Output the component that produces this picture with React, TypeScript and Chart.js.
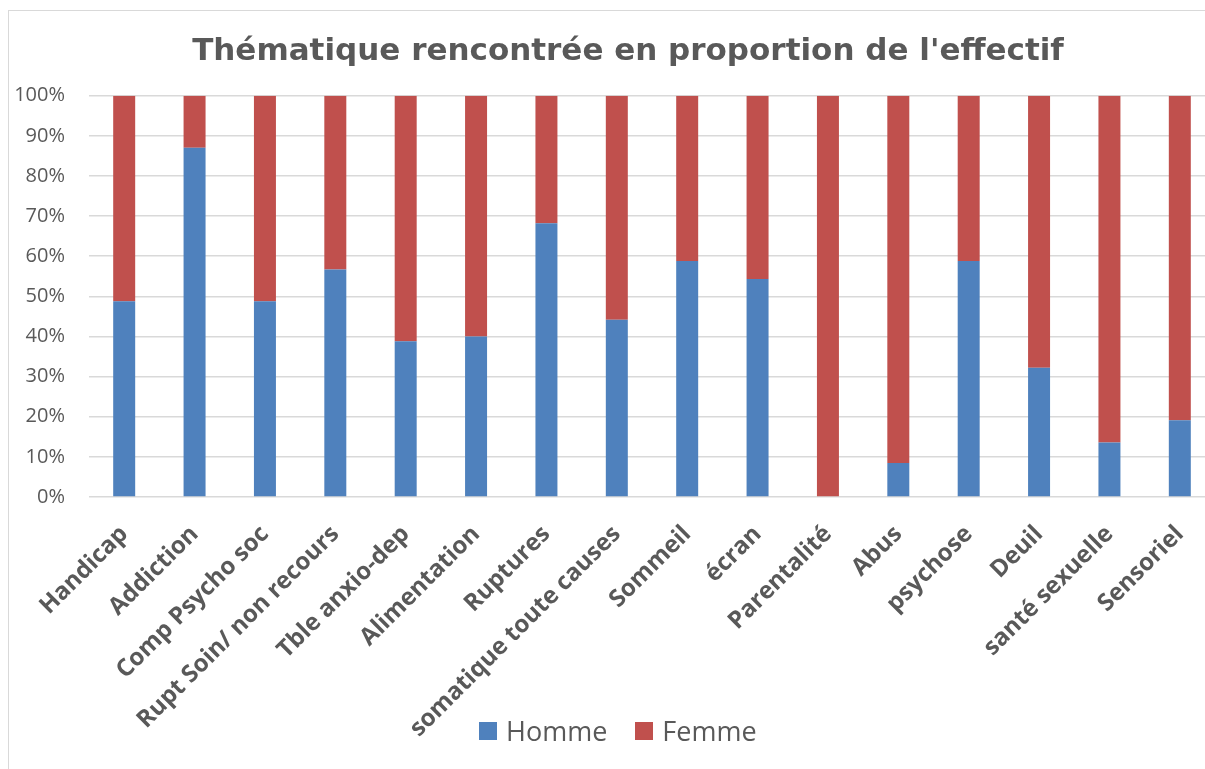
import React, { useEffect, useRef } from 'react';
import { Chart, registerables } from 'chart.js';

Chart.register(...registerables);

const chartTitle = "Thématique rencontrée en proportion de l'effectif";

const categories = [
  'Handicap',
  'Addiction',
  'Comp Psycho soc',
  'Rupt Soin/ non recours',
  'Tble anxio-dep',
  'Alimentation',
  'Ruptures',
  'somatique toute causes',
  'Sommeil',
  'écran',
  'Parentalité',
  'Abus',
  'psychose',
  'Deuil',
  'santé sexuelle',
  'Sensoriel',
];

const seriesNames = ['Homme', 'Femme'];
const seriesColors = ['#4F81BD', '#C0504D'];

const hommeValues = [48.8, 87, 48.8, 56.7, 38.8, 40, 68.2, 44.2, 58.8, 54.3, 0, 8.5, 58.8, 32.2, 13.6, 19.1];
const femmeValues = [51.2, 13, 51.2, 43.3, 61.2, 60, 31.8, 55.8, 41.2, 45.7, 100, 91.5, 41.2, 67.8, 86.4, 80.9];

const yMin = 0;
const yMax = 100;
const yStep = 10;

export default function App() {
  const canvasRef = useRef<HTMLCanvasElement>(null);

  useEffect(() => {
    if (!canvasRef.current) return;
    const chart = new Chart(canvasRef.current, {
      type: 'bar',
      data: {
        labels: categories,
        datasets: [
          {
            label: seriesNames[0],
            data: hommeValues,
            backgroundColor: seriesColors[0],
            borderWidth: 0,
            categoryPercentage: 0.3125,
            barPercentage: 1,
          },
          {
            label: seriesNames[1],
            data: femmeValues,
            backgroundColor: seriesColors[1],
            borderWidth: 0,
            categoryPercentage: 0.3125,
            barPercentage: 1,
          },
        ],
      },
      options: {
        animation: false,
        responsive: false,
        devicePixelRatio: 1,
        layout: { padding: { left: 0, right: 0, top: 0, bottom: 17 } },
        plugins: {
          title: {
            display: true,
            text: chartTitle,
            color: '#595959',
            font: { family: 'DejaVu Sans', size: 31, weight: 'bold', lineHeight: 1.2 },
            padding: { top: 25, bottom: 25.5 },
          },
          legend: { display: false },
          tooltip: { enabled: false },
        },
        scales: {
          x: {
            stacked: true,
            grid: { display: false },
            border: { display: false },
            ticks: {
              autoSkip: false,
              maxRotation: 45,
              minRotation: 45,
              padding: 15,
              color: '#595959',
              font: { family: 'Open Sans', size: 24, weight: 'bold' },
            },
            afterFit: (s: any) => {
              s.height = 255;
            },
          },
          y: {
            stacked: true,
            min: yMin,
            max: yMax,
            ticks: {
              stepSize: yStep,
              callback: (v: any) => v + '%',
              padding: 24,
              color: '#595959',
              font: { family: 'Open Sans', size: 20 },
            },
            grid: { color: '#d9d9d9', lineWidth: 1.5, drawTicks: false },
            border: { display: false },
            afterFit: (s: any) => {
              s.width = 81;
            },
          },
          yRight: {
            position: 'right',
            display: true,
            grid: { display: false },
            border: { display: false },
            ticks: { display: false },
            afterFit: (s: any) => {
              s.width = 33;
            },
          },
        },
      },
    } as any);
    return () => chart.destroy();
  }, []);

  return (
    <div
      style={{
        position: 'fixed',
        left: 0,
        top: 0,
        width: 1205,
        height: 769,
        overflow: 'hidden',
        background: '#ffffff',
      }}
    >
      <div
        style={{
          position: 'absolute',
          left: 8,
          top: 10,
          width: 1300,
          height: 800,
          borderLeft: '1px solid #d9d9d9',
          borderTop: '1px solid #d9d9d9',
        }}
      />
      <div style={{ position: 'absolute', left: 8, top: 8, width: 1240, height: 761 }}>
        <canvas ref={canvasRef} width={1240} height={761} style={{ display: 'block' }} />
      </div>
      <div
        style={{
          position: 'absolute',
          left: 479,
          top: 713,
          height: 36,
          display: 'flex',
          alignItems: 'center',
          fontFamily: "'Open Sans', sans-serif",
          fontSize: 27,
          lineHeight: '36px',
          color: '#595959',
          whiteSpace: 'nowrap',
        }}
      >
        {seriesNames.map((name, i) => (
          <div key={name} style={{ display: 'flex', alignItems: 'center', marginRight: 28 }}>
            <span
              style={{
                display: 'inline-block',
                width: 18,
                height: 18,
                background: seriesColors[i],
                marginRight: 9,
              }}
            />
            <span>{name}</span>
          </div>
        ))}
      </div>
    </div>
  );
}
